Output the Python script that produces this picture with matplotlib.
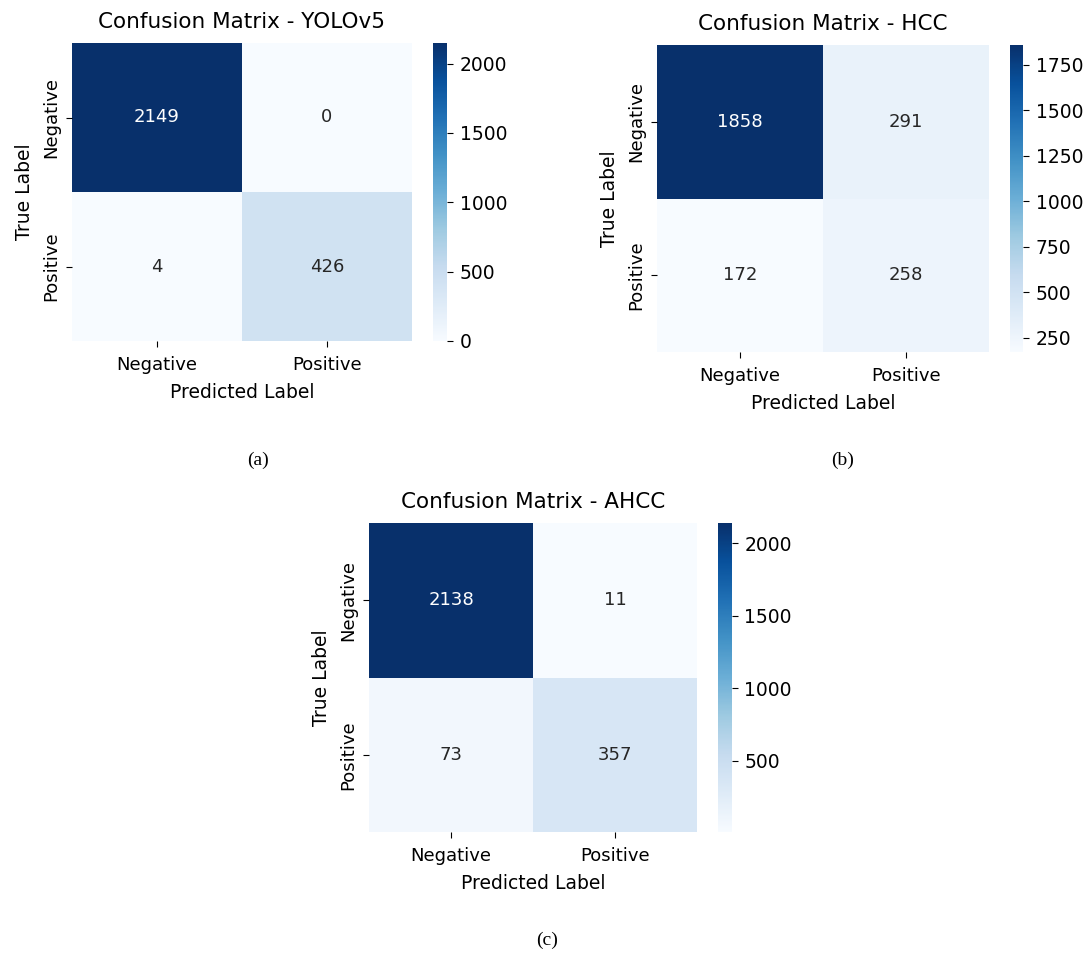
import numpy as np
import matplotlib
matplotlib.use("Agg")
import matplotlib.pyplot as plt
from matplotlib.ticker import MultipleLocator
import seaborn as sns

# data
labels = ["Negative", "Positive"]
models = ["YOLOv5", "HCC", "AHCC"]
cm_yolo = np.array([[2149, 0], [4, 426]])
cm_hcc = np.array([[1858, 291], [172, 258]])
cm_ahcc = np.array([[2138, 11], [73, 357]])
cbar_steps = [500, 250, 500]
captions = ["(a)", "(b)", "(c)"]

W, H = 1086, 956
fig = plt.figure(figsize=(W / 100, H / 100), dpi=100)


def px_axes(x0, y0, x1, y1):
    # pixel box (top-left origin) -> figure axes
    return fig.add_axes([x0 / W, 1 - y1 / H, (x1 - x0) / W, (y1 - y0) / H])


# (heatmap box, colorbar box, caption position)
layout = [
    ((72, 43, 412, 341), (433, 43, 447, 341), (258, 460)),
    ((657, 45, 989, 352), (1010, 45, 1023, 352), (843, 460)),
    ((369, 523, 697, 832), (718, 523, 732, 832), (547, 940)),
]

for cm, name, step, cap, (box, cbox, cpos) in zip(
        [cm_yolo, cm_hcc, cm_ahcc], models, cbar_steps, captions, layout):
    ax = px_axes(*box)
    cax = px_axes(*cbox)
    sns.heatmap(cm, annot=True, fmt="d", cmap="Blues", ax=ax, cbar_ax=cax,
                xticklabels=labels, yticklabels=labels,
                annot_kws={"fontsize": 13})
    ax.set_yticklabels(labels, rotation=90, va="center", fontsize=13)
    ax.set_xticklabels(labels, rotation=0, fontsize=13)
    ax.tick_params(axis="x", length=4.5, pad=6)
    ax.tick_params(axis="y", length=4.5, pad=4)
    ax.set_xlabel("Predicted Label", fontsize=13.5, labelpad=7)
    ax.set_ylabel("True Label", fontsize=13.5, labelpad=6)
    ax.set_title(f"Confusion Matrix - {name}", fontsize=15.5, pad=11)
    cax.yaxis.set_major_locator(MultipleLocator(step))
    cax.tick_params(labelsize=13.5, length=4, pad=5)
    fig.text(cpos[0] / W, 1 - cpos[1] / H, cap, ha="center", va="center",
             fontsize=14, family="Liberation Serif")

fig.savefig("out.png", dpi=100)
